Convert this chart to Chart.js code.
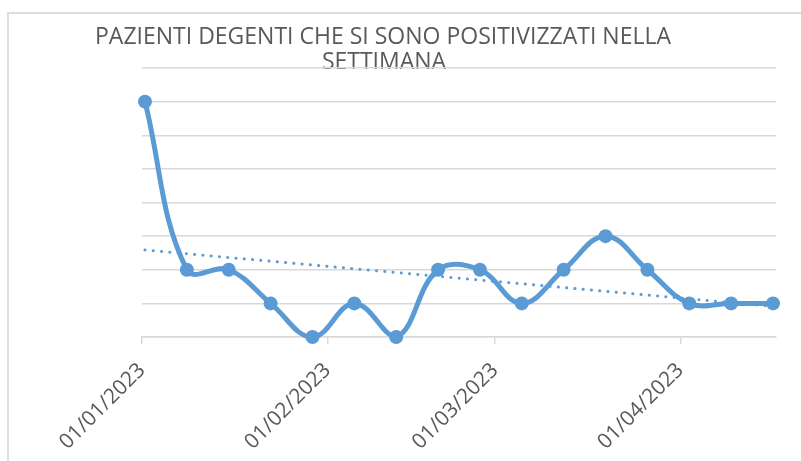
<!DOCTYPE html>
<html>
<head>
<meta charset="utf-8">
<script src="https://cdn.jsdelivr.net/npm/chart.js@4"></script>
<style>
  html, body { margin: 0; padding: 0; background: #fff; }
  #wrap { position: relative; width: 801px; height: 461px; }
  #frame { position: absolute; left: 7px; top: 12px; right: -10px; bottom: -10px;
           border-left: 2px solid #dedede; border-top: 2px solid #dedede; }
  canvas { position: absolute; left: 0; top: 0; }
</style>
</head>
<body>
<div id="wrap">
  <div id="frame"></div>
  <canvas id="myChart" width="801" height="461"></canvas>
</div>
<script>
// weekly data
var weeks = ['2023-01-01', '2023-01-08', '2023-01-15', '2023-01-22', '2023-01-29', '2023-02-05',
             '2023-02-12', '2023-02-19', '2023-02-26', '2023-03-05', '2023-03-12', '2023-03-19',
             '2023-03-26', '2023-04-02', '2023-04-09', '2023-04-16'];
var pazienti = [7, 2, 2, 1, 0, 1, 0, 2, 2, 1, 2, 3, 2, 1, 1, 1];

var tickDates = ['2023-01-01', '2023-02-01', '2023-03-01', '2023-04-01'];
var tickLabels = ['01/01/2023', '01/02/2023', '01/03/2023', '01/04/2023'];

var titleLines = ['PAZIENTI DEGENTI CHE SI SONO POSITIVIZZATI NELLA', 'SETTIMANA'];

var DAY = 86400000;
var start = Date.parse('2023-01-01');
function dayOf(d) { return (Date.parse(d) - start) / DAY; }

var points = weeks.map(function (w, i) { return { x: dayOf(w) + 0.5, y: pazienti[i] }; });
var tickDays = tickDates.map(dayOf);

// linear trend (as Excel's trendline)
var n = pazienti.length, sx = 0, sy = 0, sxy = 0, sxx = 0;
pazienti.forEach(function (v, i) { sx += i; sy += v; sxy += i * v; sxx += i * i; });
var slope = (n * sxy - sx * sy) / (n * sxx - sx * sx);
var icpt = (sy - slope * sx) / n;
var trend = [
  { x: points[0].x, y: icpt },
  { x: points[n - 1].x, y: icpt + slope * (n - 1) }
];

var titlePlugin = {
  id: 'excelTitle',
  beforeDraw: function (chart) {
    var ctx = chart.ctx;
    ctx.save();
    ctx.font = '23px "Open Sans"';
    ctx.fillStyle = '#595959';
    ctx.textAlign = 'center';
    ctx.textBaseline = 'alphabetic';
    ctx.fillText(titleLines[0], 383, 44);
    ctx.fillText(titleLines[1], 384, 69);
    ctx.restore();
  }
};

new Chart(document.getElementById('myChart').getContext('2d'), {
  type: 'line',
  data: {
    datasets: [{
      data: points,
      borderColor: '#5b9bd5',
      backgroundColor: '#5b9bd5',
      borderWidth: 5,
      tension: 0.4,
      pointRadius: 7,
      pointHoverRadius: 7,
      pointBorderWidth: 0,
      clip: false,
      fill: false
    }, {
      data: trend,
      borderColor: '#5b9bd5',
      borderWidth: 3,
      borderDash: [0.1, 8.2],
      borderCapStyle: 'round',
      pointRadius: 0,
      clip: false,
      fill: false
    }]
  },
  options: {
    responsive: false,
    animation: false,
    layout: { padding: { left: 142, right: 25, top: 68, bottom: 0 } },
    plugins: {
      legend: { display: false },
      title: { display: false },
      tooltip: { enabled: false }
    },
    scales: {
      x: {
        type: 'linear',
        min: 0,
        max: 106,
        afterBuildTicks: function (s) { s.ticks = tickDays.map(function (v) { return { value: v }; }); },
        afterFit: function (s) { s.height = 124; },
        ticks: {
          autoSkip: false,
          minRotation: 45,
          maxRotation: 45,
          padding: 14,
          color: '#595959',
          font: { family: 'Open Sans', size: 21 },
          callback: function (v) { return tickLabels[tickDays.indexOf(v)]; }
        },
        grid: { drawOnChartArea: false, drawTicks: true, tickLength: 7, color: '#d9d9d9', lineWidth: 1.5 },
        border: { color: '#d9d9d9', width: 1.5 }
      },
      y: {
        min: 0,
        max: 8,
        afterFit: function (s) { s.width = 0; },
        ticks: { stepSize: 1, display: false },
        grid: { color: '#d9d9d9', lineWidth: 1.5, drawTicks: false },
        border: { display: false }
      }
    }
  },
  plugins: [titlePlugin]
});
</script>
</body>
</html>
